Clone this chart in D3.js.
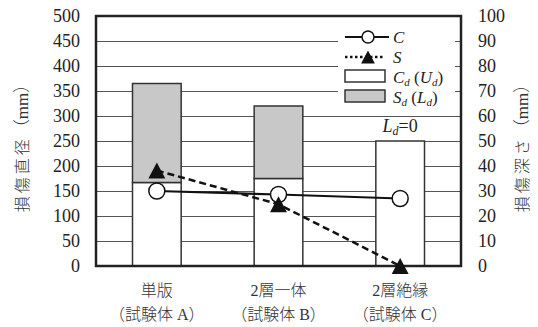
<!DOCTYPE html>
<html>
<head>
<meta charset="utf-8">
<script src="https://cdn.jsdelivr.net/npm/d3@7"></script>
<style>
  body { margin: 0; background: #fff; }
  text { font-family: "Liberation Serif", "Noto Sans CJK JP", serif; fill: #222; }
  .jp { font-family: "Liberation Serif", "Noto Sans CJK JP", sans-serif; font-weight: 300; fill: #333; }
</style>
</head>
<body>
<div id="chart"></div>
<script>
// data
const catTop = ["単版", "2層一体", "2層絶縁"];
const catBottom = ["（試験体 A）", "（試験体 B）", "（試験体 C）"];
const cdValues = [167, 175, 250];   // 損傷直径 Cd (Ud), mm
const sdValues = [198, 145, 0];     // 損傷直径 Sd (Ld), mm
const cValues = [30, 28.6, 27];     // 損傷深さ C, mm
const sValues = [38.2, 24.7, 0];    // 損傷深さ S, mm
const leftTicks = [0, 50, 100, 150, 200, 250, 300, 350, 400, 450, 500];
const rightTicks = [0, 10, 20, 30, 40, 50, 60, 70, 80, 90, 100];

const width = 538, height = 327;
const margin = {left: 96, right: 77, top: 16, bottom: 61};
const x0 = margin.left, x1 = width - margin.right;
const yTop = margin.top, yBot = height - margin.bottom;

const svg = d3.select("#chart").append("svg")
  .attr("width", width)
  .attr("height", height);

const x = d3.scaleBand()
  .domain(d3.range(catTop.length))
  .range([x0, x1])
  .paddingInner(0.6)
  .paddingOuter(0.3);

const yL = d3.scaleLinear().domain([0, 500]).range([yBot, yTop]);
const yR = d3.scaleLinear().domain([0, 100]).range([yBot, yTop]);

// **** gridlines *****
svg.append("g")
  .attr("transform", `translate(${x0},0)`)
  .call(d3.axisLeft(yL).tickValues(leftTicks.slice(1, -1)).tickSize(-(x1 - x0)).tickFormat(""))
  .call(g => g.select(".domain").remove())
  .selectAll("line")
  .attr("stroke", "#555")
  .attr("stroke-width", 1);

// **** bars *****
const bars = svg.append("g")
  .attr("stroke", "#333")
  .attr("stroke-width", 1.5);

bars.selectAll(".cd")
  .data(cdValues)
  .join("rect")
  .attr("class", "cd")
  .attr("x", (d, i) => x(i))
  .attr("width", x.bandwidth())
  .attr("y", d => yL(d))
  .attr("height", d => yL(0) - yL(d))
  .attr("fill", "#fff");

bars.selectAll(".sd")
  .data(sdValues)
  .join("rect")
  .attr("class", "sd")
  .filter(d => d > 0)
  .attr("x", (d, i) => x(i))
  .attr("width", x.bandwidth())
  .attr("y", (d, i) => yL(cdValues[i] + d))
  .attr("height", d => yL(0) - yL(d))
  .attr("fill", "#c8c8c8");

// L_d=0 label above third bar
const ld = svg.append("text")
  .attr("x", x(2) + x.bandwidth() / 2)
  .attr("y", yL(cdValues[2] + sdValues[2]) - 9)
  .attr("text-anchor", "middle")
  .attr("font-size", 18);
ld.append("tspan").attr("font-style", "italic").text("L");
ld.append("tspan").attr("font-style", "italic").attr("font-size", 12).attr("dy", 3).text("d");
ld.append("tspan").attr("dy", -3).text("=0");

// **** legend *****
const leg = svg.append("g");
leg.append("rect")
  .attr("x", 338).attr("y", 22).attr("width", 117).attr("height", 86)
  .attr("fill", "#fff");

const cx = i => x(i) + x.bandwidth() / 2;
const tri = (s) => `M0,${-s}L${s * 1.06},${s}L${-s * 1.06},${s}Z`;

// **** lines *****
const line = d3.line().x((d, i) => cx(i)).y(d => yR(d));

svg.append("path")
  .datum(cValues)
  .attr("d", line)
  .attr("fill", "none")
  .attr("stroke", "#111")
  .attr("stroke-width", 2.2);

svg.append("path")
  .datum(sValues)
  .attr("d", line)
  .attr("fill", "none")
  .attr("stroke", "#111")
  .attr("stroke-width", 2.5)
  .attr("stroke-dasharray", "7,4");

// **** frame *****
svg.append("rect")
  .attr("x", x0).attr("y", yTop)
  .attr("width", x1 - x0).attr("height", yBot - yTop)
  .attr("fill", "none")
  .attr("stroke", "#222")
  .attr("stroke-width", 2.5);

// **** markers *****
svg.selectAll(".cpt")
  .data(cValues)
  .join("circle")
  .attr("class", "cpt")
  .attr("cx", (d, i) => cx(i))
  .attr("cy", d => yR(d))
  .attr("r", 8)
  .attr("fill", "#fff")
  .attr("stroke", "#111")
  .attr("stroke-width", 1.5);

svg.selectAll(".spt")
  .data(sValues)
  .join("path")
  .attr("class", "spt")
  .attr("transform", (d, i) => `translate(${cx(i)},${yR(d)})`)
  .attr("d", tri(8))
  .attr("fill", "#111");

// legend items
const lx = 345, lw = 40, tx = 393;
leg.append("line").attr("x1", lx).attr("x2", lx + 44).attr("y1", 37).attr("y2", 37)
  .attr("stroke", "#111").attr("stroke-width", 2.2);
leg.append("circle").attr("cx", 368).attr("cy", 37).attr("r", 6)
  .attr("fill", "#fff").attr("stroke", "#111").attr("stroke-width", 1.5);
leg.append("line").attr("x1", lx).attr("x2", lx + 40).attr("y1", 57).attr("y2", 57)
  .attr("stroke", "#111").attr("stroke-width", 2.5).attr("stroke-dasharray", "2.5,2.5");
leg.append("path").attr("transform", "translate(368,57)").attr("d", tri(6.5)).attr("fill", "#111");
leg.append("rect").attr("x", lx).attr("y", 70).attr("width", lw).attr("height", 12)
  .attr("fill", "#fff").attr("stroke", "#333").attr("stroke-width", 1.5);
leg.append("rect").attr("x", lx).attr("y", 90).attr("width", lw).attr("height", 12)
  .attr("fill", "#c8c8c8").attr("stroke", "#333").attr("stroke-width", 1.5);

const legText = [
  {y: 43, parts: [["C", true]]},
  {y: 63, parts: [["S", true]]},
  {y: 83, parts: [["C", true], ["d", true, true], [" (", false], ["U", true], ["d", true, true], [")", false]]},
  {y: 103, parts: [["S", true], ["d", true, true], [" (", false], ["L", true], ["d", true, true], [")", false]]}
];
legText.forEach(r => {
  const t = leg.append("text").attr("x", tx).attr("y", r.y).attr("font-size", 17);
  let sub = false;
  r.parts.forEach(([s, it, isSub]) => {
    const ts = t.append("tspan").text(s);
    if (it) ts.attr("font-style", "italic");
    if (isSub) { ts.attr("font-size", 11).attr("dy", 3); sub = true; }
    else if (sub) { ts.attr("dy", -3); sub = false; }
  });
});

// **** axes labels *****
svg.append("g")
  .attr("transform", `translate(${x0},0)`)
  .call(d3.axisLeft(yL).tickValues(leftTicks).tickSize(0).tickPadding(16))
  .call(g => g.select(".domain").remove())
  .selectAll("text")
  .attr("font-size", 18)
  .attr("font-family", "Liberation Serif")
  .attr("fill", "#222");

svg.append("g")
  .attr("transform", `translate(${x1},0)`)
  .call(d3.axisRight(yR).tickValues(rightTicks).tickSize(0).tickPadding(17))
  .call(g => g.select(".domain").remove())
  .selectAll("text")
  .attr("font-size", 18)
  .attr("font-family", "Liberation Serif")
  .attr("fill", "#222");

svg.selectAll(".tick text").attr("fill", "#222");

// category labels
svg.selectAll(".cat1")
  .data(catTop)
  .join("text")
  .attr("class", "jp")
  .attr("x", (d, i) => cx(i))
  .attr("y", 296)
  .attr("text-anchor", "middle")
  .attr("font-size", 16)
  .text(d => d);

svg.selectAll(".cat2")
  .data(catBottom)
  .join("text")
  .attr("class", "jp")
  .attr("x", (d, i) => cx(i))
  .attr("y", 320)
  .attr("text-anchor", "middle")
  .attr("font-size", 16)
  .text(d => d);

// axis titles
const ym = (yTop + yBot) / 2 + 3;
function axisTitle(xPos, jp) {
  const t = svg.append("text")
    .attr("class", "jp")
    .attr("transform", `translate(${xPos},${ym}) rotate(-90)`)
    .attr("text-anchor", "middle")
    .attr("font-size", 16);
  t.append("tspan").attr("letter-spacing", 3).text(jp);
  t.append("tspan").attr("font-size", 17).text("（mm）");
}
axisTitle(28, "損傷直径");
axisTitle(528, "損傷深さ");
</script>
</body>
</html>
